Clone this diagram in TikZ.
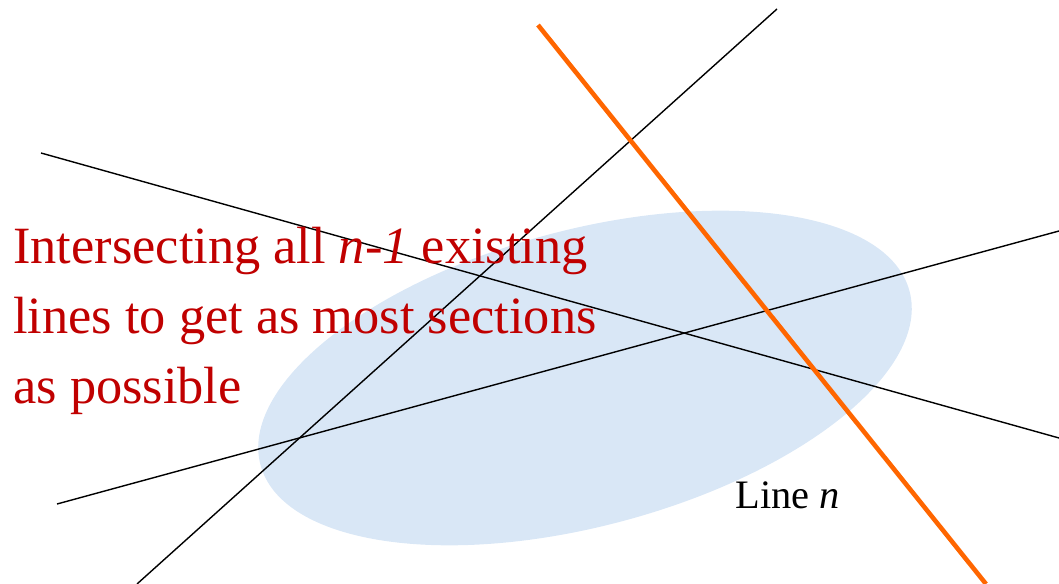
\documentclass[tikz,border=0pt]{standalone}
\usepackage{fontspec}
\setmainfont{Liberation Serif}
\usetikzlibrary{positioning, shapes.geometric}
\definecolor{myred}{HTML}{C00000}
\definecolor{myorange}{HTML}{FF6600}
\definecolor{myblue}{HTML}{D9E7F6}

\begin{document}
\begin{tikzpicture}[
  x=0.02cm, y=-0.02cm,
  blob/.style={ellipse, fill=myblue, draw=none, inner sep=0pt,
    minimum width=13.44cm, minimum height=5.92cm},
  oldline/.style={black, line width=0.8pt},
  newline/.style={myorange, line width=2.6pt},
  note/.style={inner sep=0pt, align=left, text=myred,
    font=\fontsize{29.8}{39.8}\selectfont},
  tag/.style={inner sep=0pt, font=\fontsize{23}{27}\selectfont}
]
\useasboundingbox (0,0) rectangle (1059,584);

\node[blob, rotate=15] (plane) at (585,378) {};

% end points of the existing lines
\coordinate (a1) at (137,584);
\coordinate (a2) at (777,9);
\coordinate (b1) at (41,153);
\coordinate (b2) at (1059,438);
\coordinate (c1) at (57,504);
\coordinate (c2) at (1059,231);
% the new line
\coordinate (n1) at (538,25);
\coordinate (n2) at (986,584);

\draw[oldline] (a1) -- (a2);
\draw[oldline] (b1) -- (b2);
\draw[oldline] (c1) -- (c2);
\draw[newline] (n1) -- (n2);

\node[note, anchor=north west] (msg) at (13,227)
  {Intersecting all \textit{n-1} existing\\lines to get as most sections\\as possible};
\node[tag, anchor=base west] (lab) at (735,508) {Line \textit{n}};
\end{tikzpicture}
\end{document}
